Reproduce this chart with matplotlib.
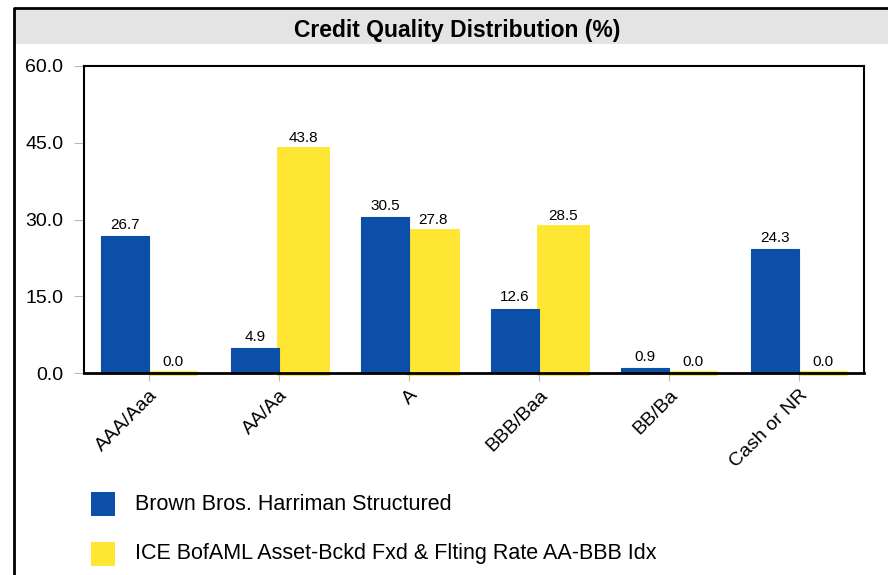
import matplotlib
matplotlib.use("Agg")
import matplotlib.pyplot as plt
from matplotlib.lines import Line2D
from matplotlib.patches import Rectangle
import numpy as np

categories = ["AAA/Aaa", "AA/Aa", "A", "BBB/Baa", "BB/Ba", "Cash or NR"]
fund_values = [26.7, 4.9, 30.5, 12.6, 0.9, 24.3]
index_values = [0.0, 43.8, 27.8, 28.5, 0.0, 0.0]
series_names = ["Brown Bros. Harriman Structured",
                "ICE BofAML Asset-Bckd Fxd & Flting Rate AA-BBB Idx"]
y_ticks = [0.0, 15.0, 30.0, 45.0, 60.0]

BLUE = "#0b4fa8"
YELLOW = "#ffe633"
FONT = ["Liberation Sans", "DejaVu Sans"]

W, H = 888, 575
fig = plt.figure(figsize=(W / 100, H / 100), dpi=100)
fig.patch.set_facecolor("white")

# Panel frame and grey title band
fig.add_artist(Rectangle((15 / W, 1 - 44 / H), 1 - 15 / W, 34 / H,
                         transform=fig.transFigure, facecolor="#e4e4e4",
                         edgecolor="none", zorder=0))
fig.add_artist(Line2D([14 / W, 14 / W, 1.0], [0.0, 1 - 8 / H, 1 - 8 / H],
                      transform=fig.transFigure, color="black", lw=2.0))
fig.text(457 / W, 1 - 30 / H, "Credit Quality Distribution (%)",
         ha="center", va="center", fontsize=16.5, fontweight="bold",
         family=FONT)

left, right, top, bottom = 84, 864, 66, 373
ax = fig.add_axes([left / W, 1 - bottom / H, (right - left) / W, (bottom - top) / H])

x = np.arange(len(categories))
bw = 0.37
ax.bar(x - bw / 2, fund_values, width=bw, color=BLUE, edgecolor=BLUE,
       linewidth=0.8, zorder=2)
# thick unclipped edge so that zero-valued bars still show as a thin strip
ax.bar(x + bw / 2, index_values, width=bw, color=YELLOW, edgecolor=YELLOW,
       linewidth=3.5, zorder=1, clip_on=False)

for xi, v in zip(x - bw / 2, fund_values):
    ax.text(xi, v + 0.8, f"{v:.1f}", ha="center", va="bottom",
            fontsize=11, family=FONT)
for xi, v in zip(x + bw / 2, index_values):
    ax.text(xi, v + 0.8, f"{v:.1f}", ha="center", va="bottom",
            fontsize=11, family=FONT)

ax.set_xlim(-0.5, len(categories) - 0.5)
ax.set_ylim(0, 60)
ax.set_yticks(y_ticks)
ax.set_yticklabels([f"{t:.1f}" for t in y_ticks], fontsize=14, family=FONT)
ax.set_xticks(x)
ax.set_xticklabels(categories, rotation=45, ha="right", rotation_mode="anchor",
                   fontsize=14, family=FONT)
ax.tick_params(axis="y", length=7, color="#b8b8b8", pad=8)
ax.tick_params(axis="x", length=6, color="#b8b8b8", pad=4)
for s in ax.spines.values():
    s.set_linewidth(1.5)
    s.set_color("black")
    s.set_zorder(3)
ax.spines["bottom"].set_linewidth(2.0)

# Legend
for i, (name, col) in enumerate(zip(series_names, [BLUE, YELLOW])):
    yc = 504 + i * 50
    fig.add_artist(Rectangle((91 / W, 1 - (yc + 12) / H), 24 / W, 24 / H,
                             transform=fig.transFigure, facecolor=col,
                             edgecolor="none"))
    fig.text(135 / W, 1 - yc / H, name, ha="left", va="center",
             fontsize=15.5, family=FONT)

fig.savefig("out.png", dpi=100)
